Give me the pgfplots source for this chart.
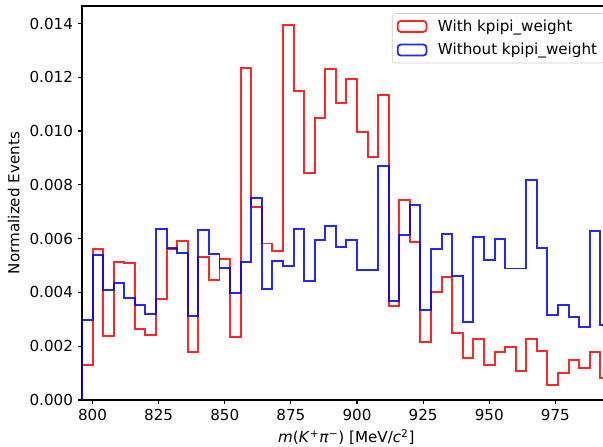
\documentclass[border=0pt]{standalone}
\usepackage{pgfplots}
\usepackage{pgfplotstable}
\usepackage{fontspec}
\setmainfont{DejaVu Sans}
\pgfplotsset{compat=1.18}

% bin left edges (4 MeV bins), normalized contents
\pgfplotstableread{
x    red      blue
796  0        0
796  0.00130  0.00297
800  0.00561  0.00541
804  0.00238  0.00408
808  0.00514  0.00436
812  0.00508  0.00378
816  0.00263  0.00353
820  0.00243  0.00318
824  0.00374  0.00637
828  0.00563  0.00566
832  0.00591  0.00548
836  0.00177  0.00311
840  0.00532  0.00631
844  0.00445  0.00543
848  0.00524  0.00492
852  0.00235  0.00397
856  0.01233  0.00512
860  0.00719  0.00752
864  0.00582  0.00414
868  0.00555  0.00517
872  0.01394  0.00499
876  0.01150  0.00637
880  0.00843  0.00442
884  0.01050  0.00595
888  0.01232  0.00647
892  0.01103  0.00569
896  0.01193  0.00594
900  0.00997  0.00483
904  0.00903  0.00483
908  0.01134  0.00870
912  0.00349  0.00369
916  0.00743  0.00612
920  0.00586  0.00724
924  0.00214  0.00333
928  0.00403  0.00563
932  0.00457  0.00616
936  0.00250  0.00460
940  0.00155  0.00290
944  0.00228  0.00606
948  0.00129  0.00520
952  0.00180  0.00597
956  0.00196  0.00489
960  0.00108  0.00489
964  0.00226  0.00818
968  0.00183  0.00567
972  0.00056  0.00316
976  0.00102  0.00354
980  0.00149  0.00310
984  0.00118  0.00271
988  0.00180  0.00629
992  0.00083  0.00278
996  0.00083  0.00278
996  0        0
}\histdata

\begin{document}
\begin{tikzpicture}
\begin{axis}[
    name=ax,
    scale only axis,
    width=349.1pt, height=260pt,
    xmin=796, xmax=996,
    ymin=0, ymax=0.01465,
    xtick={800,825,...,975},
    ytick={0,0.002,...,0.0141},
    scaled y ticks=false,
    yticklabel style={/pgf/number format/.cd, fixed, fixed zerofill, precision=3},
    /pgf/number format/assume math mode=true,
    tick pos=left,
    tick align=outside,
    major tick length=2.4pt,
    every tick/.style={black, line width=0.8pt},
    axis line style={line width=0.8pt},
    tick label style={font=\normalsize},
    ylabel={Normalized Events},
    xlabel={\textit{m}(\textit{K}\textsuperscript{+}\textit{π}\textsuperscript{−}) [MeV/\textit{c}\textsuperscript{2}]},
    every axis y label/.style={at={(axis description cs:0,0.5)}, xshift=-45pt, rotate=90, anchor=center},
    every axis x label/.style={at={(axis description cs:0.5,0)}, yshift=-24.5pt, anchor=center},
    legend style={at={(axis description cs:0.586,0.982)}, anchor=north west,
        draw=black!20, rounded corners=2pt, fill=white, fill opacity=0.8, text opacity=1,
        inner xsep=3pt, inner ysep=2pt, row sep=2.5pt, column sep=5pt, font=\normalsize},
    legend cell align=left,
    legend image code/.code={\draw[#1, line width=1.2pt] (0pt,-3.6pt) rectangle (19pt,3.6pt);},
]
\addplot[const plot mark left, red, line width=1.3pt, opacity=0.85] table[x=x, y=red] {\histdata};
\addlegendentry{With kpipi\_weight}
\addplot[const plot mark left, blue, line width=1.3pt, opacity=0.85] table[x=x, y=blue] {\histdata};
\addlegendentry{Without kpipi\_weight}
\end{axis}
\pgfresetboundingbox
\path[use as bounding box] ([xshift=-54.1pt, yshift=-31pt]ax.south west) rectangle ([xshift=343.9pt, yshift=4pt]ax.north west);
\end{tikzpicture}
\end{document}
